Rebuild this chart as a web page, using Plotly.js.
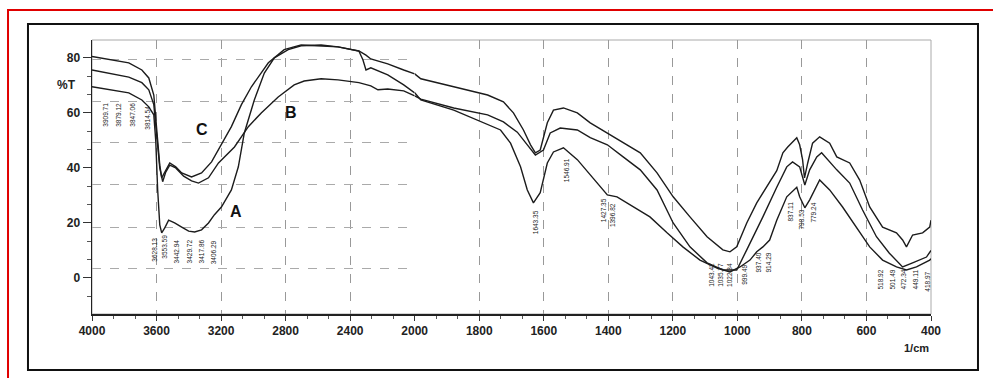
<!DOCTYPE html>
<html><head><meta charset="utf-8">
<script src="https://cdn.plot.ly/plotly-3.0.1.min.js"></script>
<style>html,body{margin:0;padding:0;background:#fff}#chart{width:993px;height:378px}</style>
</head><body><div id="chart"></div>
<script>
// ---- data (wavenumber in 1/cm, transmittance %T) ----
const wnA=[4000,3877,3772,3691,3648,3617,3605,3593,3580,3568,3549,3525,3488,3444,3401,3364,3321,3278,3241,3198,3136,3093,3056,2994,2932,2870,2784,2704,2580,2475,2346,2321,2302,2272,2167,2068,2000,1981,1879,1774,1734,1703,1672,1651,1632,1611,1589,1570,1539,1496,1456,1403,1373,1323,1271,1218,1169,1116,1063,1023,992,961,940,921,900,878,847,816,807,791,776,745,714,674,631,590,550,507,476,445,404,400];
const tA=[69.5,68.4,67.3,64.7,62.2,59.3,50,32,19.3,16.4,18.2,21,20,18.5,17,16.7,17.5,20,23,25.8,32,40.4,52.7,64.7,74.5,80,83,84.4,84.7,84,82.5,79.3,75.6,76.4,73.8,70.2,67.3,64.7,61,55.6,53.8,49,40.4,32,27.3,31,41.8,45.8,47.3,43,37.5,30.2,29.5,25.8,22.2,16.4,11.3,6.5,3.6,2.2,4,6.5,9.5,11.3,13.8,21,29.5,33,29.5,25.5,28.4,35.6,32,25.8,18.5,11.3,6.5,4,2.9,4,6.5,7];
const wnB=[4000,3877,3772,3691,3648,3617,3599,3580,3562,3543,3518,3481,3432,3383,3340,3278,3216,3117,3031,2951,2846,2747,2685,2580,2475,2346,2272,2228,2167,2068,2000,1981,1879,1774,1725,1682,1651,1626,1601,1580,1549,1496,1456,1403,1354,1301,1249,1199,1147,1094,1045,1002,971,940,921,878,847,829,807,791,776,754,739,692,652,612,569,529,488,457,414,400];
const tB=[75.6,74.2,73,71,68.4,63,52,40,35,38.5,41,40,37,35.3,34.5,36.4,41.8,47.6,55,60,65.8,70.2,71.6,72.4,72,71,69.8,68.4,68.7,68,66.2,65,61.8,59.3,56.7,53,48.4,44.7,46.5,52.7,54.5,53.8,51,48.4,44,39.3,32,20,11.3,5.5,2.9,2.9,10.2,17.5,22.2,33,40.4,42.2,40.4,33.8,39.3,44,45.5,39.3,34.5,24.7,15,9,4,5.5,7.6,10];
const wnC=[4000,3877,3772,3691,3648,3617,3599,3580,3568,3549,3518,3481,3444,3383,3321,3259,3216,3136,3074,3012,2907,2809,2704,2580,2475,2346,2302,2272,2167,2068,2000,1981,1879,1774,1725,1694,1663,1641,1626,1611,1589,1570,1539,1496,1456,1403,1354,1301,1249,1199,1147,1094,1045,1023,1002,971,940,909,878,859,844,816,807,798,792,782,767,745,714,692,652,621,590,550,507,488,476,457,426,404,400];
const tC=[80.5,79.3,78.2,75.6,72.7,66.5,53.8,41,36.4,38.5,41.8,40.4,38.2,36.7,38.2,42.2,46.5,55,63,69.5,78.2,83,84.7,84.4,84,82.5,81,79.6,77.8,75.6,74.2,72.4,69.5,66.5,64,60,53.8,48.4,45.5,46.5,56.4,61,61.8,60,56.4,52.7,49.5,45.5,38.2,29.5,22.2,15,10.2,9.5,11.3,20,27.3,33,39,45.5,47.6,51,48.4,43,36.4,41.8,49,51.3,49,44,41.8,35.6,25.8,18.5,16.4,13.8,11.3,15.6,16.4,18.5,21];

const leftTicks=[4000,3600,3200,2800,2400];
const rightTicks=[2000,1800,1600,1400,1200,1000,800,600,400];
const yTicks=[0,20,40,60,80];
const gridT=[3.6,18.5,33.8,49.1,64,79.3];

// series labels
const seriesLabel=['A','B','C'];
const seriesLabelWn=[3105,2765,3321];
const seriesLabelT=[24,60,53.8];

// peak labels
const peakText=['3909.71','3879.12','3847.06','3814.54','3628.13','3553.59','3442.94','3429.72','3417.86','3406.29','1643.35','1546.91','1427.35','1396.82','1043.42','1035.77','1022.34','999.49','937.40','914.29','837.11','798.53','779.24','518.92','501.49','472.34','449.11','418.97'];
const peakWn=[3914,3833,3747,3654,3611,3549,3475,3395,3321,3247,1626,1527,1416,1385,1079,1051,1023,977,934,903,835,801,767,556,519,485,448,411];
const peakT=[59.3,59.3,59.3,58.2,10.2,11.3,9.5,9.5,9.5,9.5,20.4,39.3,24.7,22.9,1.1,1.1,1.1,1.1,5.5,5.5,24,21.1,23.6,-0.7,-0.7,-0.7,-0.7,-1.2];

function split(wn,t,name){
  const l={x:[],y:[]}, r={x:[],y:[]};
  wn.forEach((w,i)=>{
    if(w>=2000){l.x.push(w);l.y.push(t[i]);}
    if(w<=2000){r.x.push(w);r.y.push(t[i]);}
  });
  const line={color:'#1c1c1c',width:1.4};
  return [
    {x:l.x,y:l.y,xaxis:'x',yaxis:'y',mode:'lines',line:line,name:name,showlegend:false},
    {x:r.x,y:r.y,xaxis:'x2',yaxis:'y',mode:'lines',line:line,name:name,showlegend:false}
  ];
}

const traces=[].concat(split(wnA,tA,'A'),split(wnB,tB,'B'),split(wnC,tC,'C'));
traces.push({x:[],y:[],xaxis:'x',yaxis:'y2',mode:'lines',showlegend:false});

const tickfont={family:'Liberation Sans, Arial, sans-serif',size:12,color:'#222',weight:'bold'};
const yr=[-13.1,86.5];

const annotations=[];
seriesLabel.forEach((s,i)=>annotations.push({x:seriesLabelWn[i],y:seriesLabelT[i],xref:'x',yref:'y',text:s,showarrow:false,
  font:{family:'Liberation Sans, Arial, sans-serif',size:16,color:'#111',weight:'bold'}}));
peakText.forEach((s,i)=>annotations.push({x:peakWn[i],y:peakT[i],xref:peakWn[i]>=2000?'x':'x2',yref:'y',text:s,showarrow:false,
  textangle:-90,font:{family:'Liberation Sans, Arial, sans-serif',size:6.5,color:'#222'}}));
annotations.push({x:-0.0167,y:70.2,xref:'paper',yref:'y',xanchor:'right',text:'%T',showarrow:false,font:tickfont});
annotations.push({x:1,y:-0.096,xref:'paper',yref:'paper',yanchor:'top',text:'1/cm',showarrow:false,
  font:{family:'Liberation Sans, Arial, sans-serif',size:11,color:'#222',weight:'bold'}});

const layout={
  width:993,height:378,margin:{l:92,r:62,t:40,b:64},
  paper_bgcolor:'#fff',plot_bgcolor:'#fff',showlegend:false,
  xaxis:{domain:[0,5/13],range:[4000,2000],anchor:'y',tickmode:'array',tickvals:leftTicks,ticktext:leftTicks.map(String),
    showgrid:true,gridcolor:'#999',griddash:'dash',gridwidth:1,zeroline:false,showline:true,linecolor:'#222',linewidth:1.5,
    ticks:'outside',ticklen:5,tickcolor:'#333',tickfont:tickfont,
    minor:{tickmode:'linear',tick0:2000,dtick:400/3,ticks:'outside',ticklen:3,tickcolor:'#555',showgrid:false}},
  xaxis2:{domain:[5/13,1],range:[2000,400],anchor:'y',tickmode:'array',tickvals:rightTicks,ticktext:rightTicks.map(String),
    showgrid:true,gridcolor:'#999',griddash:'dash',gridwidth:1,zeroline:false,showline:true,linecolor:'#222',linewidth:1.5,
    ticks:'outside',ticklen:5,tickcolor:'#333',tickfont:tickfont,
    minor:{tickmode:'linear',tick0:400,dtick:200/3,ticks:'outside',ticklen:3,tickcolor:'#555',showgrid:false}},
  yaxis:{range:yr,tickmode:'array',tickvals:yTicks,ticktext:yTicks.map(String),showgrid:false,zeroline:false,
    showline:true,linecolor:'#222',linewidth:1.5,ticks:'outside',ticklen:8,tickcolor:'#333',tickfont:tickfont,
    minor:{tickmode:'linear',tick0:0,dtick:20/3,ticks:'outside',ticklen:4,tickcolor:'#555',showgrid:false}},
  yaxis2:{range:yr,overlaying:'y',anchor:'x',side:'left',tickmode:'array',tickvals:gridT,showgrid:true,gridcolor:'#aaa',
    griddash:'dash',gridwidth:1,showticklabels:false,ticks:'',showline:false,zeroline:false},
  shapes:[
    {type:'rect',xref:'paper',yref:'paper',x0:0,x1:1,y0:0,y1:1,line:{color:'#aaa',width:1},layer:'below'},
    {type:'rect',xref:'paper',yref:'paper',x0:-0.0763,x1:1.056,y0:-0.2044,y1:1.0584,line:{color:'#111',width:2},layer:'below'},
    {type:'rect',xref:'paper',yref:'paper',x0:-0.1001,x1:1.2,y0:-0.4,y1:1.1095,line:{color:'#e00000',width:2},layer:'below'}
  ],
  annotations:annotations
};
Plotly.newPlot('chart',traces,layout,{displayModeBar:false,staticPlot:true});
</script></body></html>
